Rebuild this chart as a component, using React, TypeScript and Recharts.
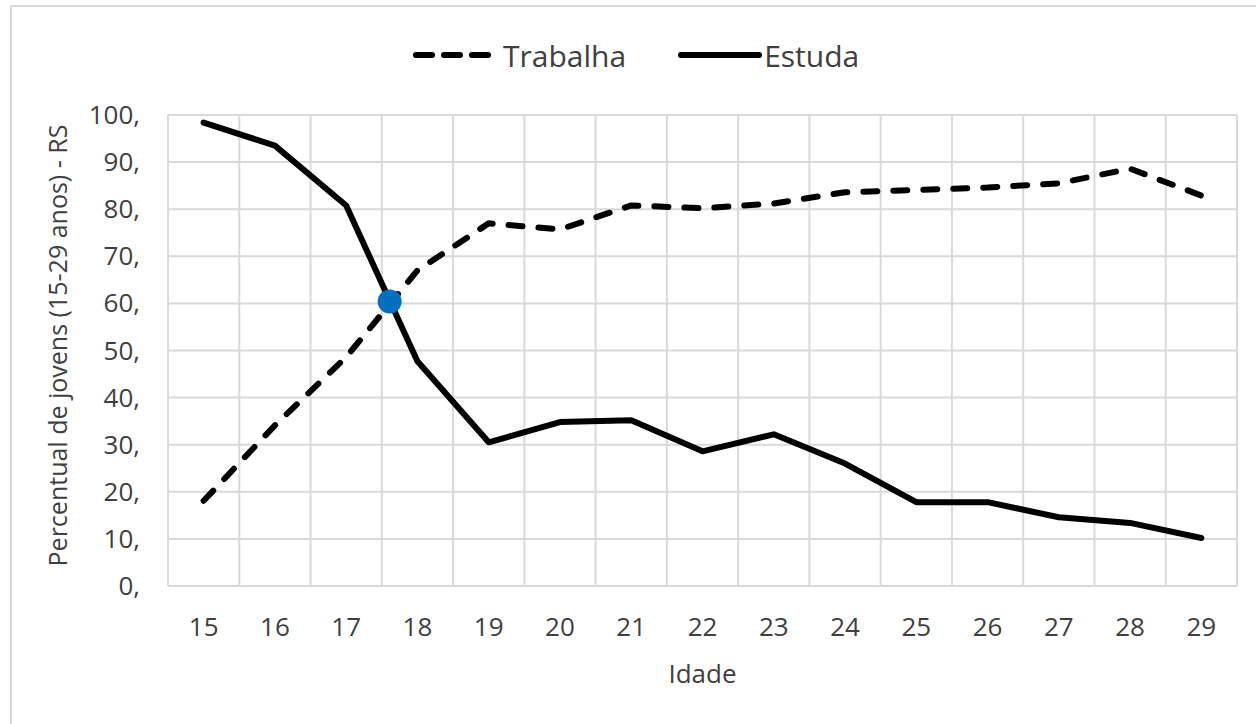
import { CartesianGrid, Legend, Line, LineChart, ReferenceDot, XAxis, YAxis } from 'recharts'

const ages = [15, 16, 17, 18, 19, 20, 21, 22, 23, 24, 25, 26, 27, 28, 29]
const trabalha = [18.1, 34.1, 48.6, 67.0, 77.0, 75.7, 80.8, 80.2, 81.2, 83.6, 84.1, 84.6, 85.5, 88.6, 82.9]
const estuda = [98.4, 93.5, 80.8, 47.7, 30.5, 34.8, 35.2, 28.6, 32.2, 26.0, 17.8, 17.8, 14.6, 13.4, 10.2]
const yTicks = [0, 10, 20, 30, 40, 50, 60, 70, 80, 90, 100]

// ponto onde as duas curvas se cruzam
const crossAge = 17.61
const crossValue = 60.4

const data = ages.map((age, i) => ({ age, trabalha: trabalha[i], estuda: estuda[i] }))
const boundaries = [...ages.map((a) => a - 0.5), ages[ages.length - 1] + 0.5]

const font = '"Open Sans", sans-serif'
const textColor = '#404040'
const gridColor = '#d9d9d9'

function LegendContent() {
  return (
    <div style={{ height: 85, fontFamily: font, color: textColor, fontSize: 30 }}>
      <div style={{ display: 'flex', alignItems: 'center', height: 50, marginLeft: 413 }}>
        <svg width={82} height={10}>
          <line x1={3} y1={5} x2={79} y2={5} stroke="#000" strokeWidth={6} strokeDasharray="16 12" strokeLinecap="round" />
        </svg>
        <span style={{ marginLeft: 8 }}>Trabalha</span>
        <svg width={84} height={10} style={{ marginLeft: 52 }}>
          <line x1={3} y1={5} x2={81} y2={5} stroke="#000" strokeWidth={6} strokeLinecap="round" />
        </svg>
        <span style={{ marginLeft: 2 }}>Estuda</span>
      </div>
    </div>
  )
}

function XTick({ x, y, payload }: any) {
  return (
    <text x={x} y={y} dy={37} textAnchor="middle" fill={textColor} fontSize={26} fontFamily={font}>
      {payload.value}
    </text>
  )
}

function YTick({ x, y, payload }: any) {
  return (
    <text x={x} y={y} dy={9} textAnchor="end" fill={textColor} fontSize={26} fontFamily={font}>
      {`${payload.value},`}
    </text>
  )
}

function YLabel({ viewBox }: any) {
  const cx = viewBox.x - 21
  const cy = viewBox.y + viewBox.height / 2 - 5
  return (
    <text
      x={cx}
      y={cy}
      transform={`rotate(-90, ${cx}, ${cy})`}
      textAnchor="middle"
      dominantBaseline="central"
      fill={textColor}
      fontSize={25}
      fontFamily={font}
    >
      Percentual de jovens (15-29 anos) - RS
    </text>
  )
}

export default function App() {
  return (
    <div style={{ position: 'absolute', left: 0, top: 0, width: 1256, height: 724, overflow: 'hidden', background: '#fff' }}>
      <div
        style={{
          position: 'absolute',
          left: 10,
          top: 5,
          width: 1400,
          height: 900,
          borderLeft: `2px solid ${gridColor}`,
          borderTop: `2px solid ${gridColor}`,
        }}
      />
      <div style={{ position: 'absolute', left: 0, top: 0 }}>
        <LineChart width={1256} height={724} data={data} margin={{ top: 30, right: 19, bottom: 78, left: 78 }}>
          <CartesianGrid
            stroke={gridColor}
            strokeWidth={2}
            verticalCoordinatesGenerator={({ offset }: any) =>
              boundaries.map((b) => offset.left + ((b - boundaries[0]) / (boundaries[boundaries.length - 1] - boundaries[0])) * offset.width)
            }
          />
          <Legend verticalAlign="top" content={<LegendContent />} wrapperStyle={{ left: 0, width: 1256 }} />
          <XAxis
            dataKey="age"
            type="number"
            domain={[boundaries[0], boundaries[boundaries.length - 1]]}
            ticks={ages}
            interval={0}
            axisLine={{ stroke: gridColor, strokeWidth: 2 }}
            tickLine={false}
            tickSize={0}
            tickMargin={13}
            height={60}
            tick={<XTick />}
            label={{ value: 'Idade', position: 'bottom', offset: 19, fill: textColor, fontSize: 26, fontFamily: font }}
          />
          <YAxis
            domain={[0, 100]}
            ticks={yTicks}
            interval={0}
            width={90}
            axisLine={false}
            tickLine={false}
            tickSize={0}
            tickMargin={28}
            tick={<YTick />}
            label={{ content: <YLabel /> }}
          />
          <Line
            type="linear"
            dataKey="trabalha"
            stroke="#000"
            strokeWidth={6}
            strokeDasharray="14 16"
            strokeLinecap="round"
            strokeLinejoin="round"
            dot={false}
            activeDot={false}
            isAnimationActive={false}
          />
          <Line
            type="linear"
            dataKey="estuda"
            stroke="#000"
            strokeWidth={6}
            strokeLinecap="round"
            strokeLinejoin="round"
            dot={false}
            activeDot={false}
            isAnimationActive={false}
          />
          <ReferenceDot x={crossAge} y={crossValue} r={12} fill="#0070C0" stroke="none" />
        </LineChart>
      </div>
    </div>
  )
}
